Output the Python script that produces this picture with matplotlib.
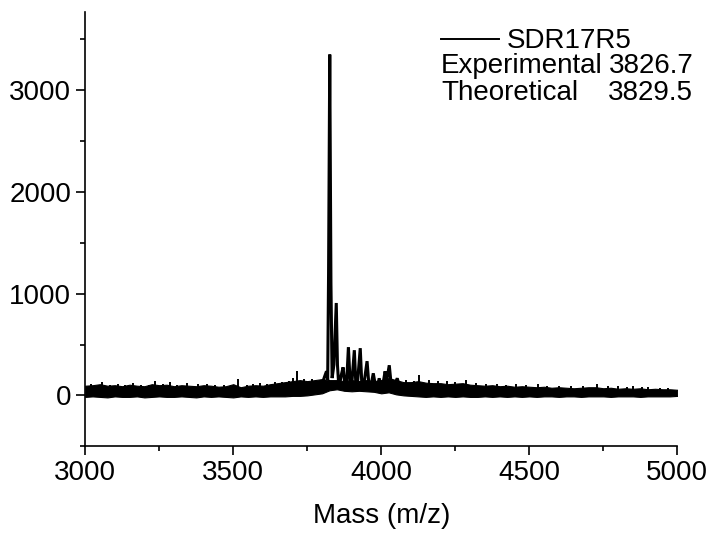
import matplotlib
matplotlib.use("Agg")
import matplotlib.pyplot as plt
from matplotlib.lines import Line2D
from matplotlib.ticker import MultipleLocator

plt.rcParams['font.family'] = ['Liberation Sans', 'DejaVu Sans']

# baseline noise band, every 25 Da
env_mass = [3000, 3025, 3050, 3075, 3100, 3125, 3150, 3175, 3200, 3225,
            3250, 3275, 3300, 3325, 3350, 3375, 3400, 3425, 3450, 3475,
            3500, 3525, 3550, 3575, 3600, 3625, 3650, 3675, 3700, 3725,
            3750, 3775, 3800, 3825, 3850, 3875, 3900, 3925, 3950, 3975,
            4000, 4025, 4050, 4075, 4100, 4125, 4150, 4175, 4200, 4225,
            4250, 4275, 4300, 4325, 4350, 4375, 4400, 4425, 4450, 4475,
            4500, 4525, 4550, 4575, 4600, 4625, 4650, 4675, 4700, 4725,
            4750, 4775, 4800, 4825, 4850, 4875, 4900, 4925, 4950, 4975, 5000]
env_top = [95, 100, 110, 95, 100, 90, 105, 95, 90, 110,
           100, 105, 90, 100, 95, 90, 100, 95, 85, 90,
           110, 80, 95, 100, 95, 110, 120, 130, 140, 150,
           140, 150, 160, 150, 150, 140, 150, 140, 150, 140,
           150, 170, 150, 130, 130, 140, 125, 120, 120, 110,
           115, 120, 105, 100, 95, 100, 90, 95, 85, 90,
           85, 80, 85, 75, 80, 75, 70, 75, 80, 80,
           70, 75, 65, 70, 65, 70, 60, 65, 60, 60, 55]
env_bot = [-15, -10, -15, -20, -10, -15, -15, -10, -20, -15,
           -10, -15, -15, -10, -15, -20, -10, -15, -10, -15,
           -20, -10, -15, -10, -15, -10, -10, -10, -5, -5,
           0, 10, 20, 50, 60, 45, 40, 45, 40, 35,
           20, 30, 10, 0, -5, -10, -15, -10, -15, -10,
           -15, -10, -15, -15, -10, -15, -10, -15, -10, -15,
           -10, -15, -10, -10, -15, -10, -10, -15, -10, -10,
           -10, -15, -10, -10, -10, -15, -10, -10, -10, -10, -5]

# isolated noise spikes
spike_mass = [3020, 3057, 3085, 3110, 3135, 3160, 3190, 3215, 3236, 3262,
              3287, 3310, 3345, 3380, 3410, 3440, 3470, 3517, 3545, 3568,
              3591, 3615, 3640, 3665, 3690, 3703, 3716, 3740, 3765,
              4085, 4110, 4128, 4160, 4190, 4223, 4250, 4287, 4320, 4355,
              4390, 4420, 4455, 4490, 4529, 4560, 4600, 4640, 4680, 4729,
              4765, 4800, 4830, 4850, 4880, 4900, 4940, 4970]
spike_int = [110, 128, 105, 115, 100, 120, 105, 100, 138, 110,
             130, 105, 125, 110, 115, 105, 100, 158, 105, 110,
             120, 110, 135, 130, 145, 168, 237, 160, 165,
             150, 140, 197, 150, 145, 140, 130, 150, 120, 115,
             115, 105, 110, 100, 110, 95, 90, 95, 90, 108,
             90, 95, 85, 90, 80, 80, 75, 70]

# peak cluster around the molecular ion
peak_mass = [3790, 3800, 3808, 3815, 3819, 3822, 3826, 3830, 3834, 3840,
             3848, 3852, 3857, 3865, 3871, 3877, 3882, 3889, 3895, 3899,
             3909, 3914, 3918, 3929, 3934, 3939, 3952, 3958, 3963, 3973,
             3980, 3986, 3993, 4000, 4008, 4013, 4018, 4027, 4033, 4040,
             4054, 4062, 4070]
peak_int = [60, 110, 180, 237, 150, 1200, 3350, 1100, 170, 300,
            908, 300, 70, 200, 276, 110, 60, 474, 120, 60,
            444, 120, 60, 464, 130, 60, 336, 110, 60, 217,
            100, 70, 168, 80, 150, 237, 140, 296, 120, 70,
            168, 80, 60]

fig = plt.figure(figsize=(7.1, 5.37), dpi=100)
ax = fig.add_axes([0.12, 0.169, 0.834, 0.809])

ax.fill_between(env_mass, env_bot, env_top, color='black', lw=0.8)
ax.vlines(spike_mass, 40, spike_int, color='black', lw=1.4)
ax.plot(peak_mass, peak_int, color='black', lw=2.2, solid_joinstyle='miter')

ax.set_xlim(3000, 5000)
ax.set_ylim(-500, 3770)
ax.xaxis.set_major_locator(MultipleLocator(500))
ax.xaxis.set_minor_locator(MultipleLocator(250))
ax.yaxis.set_major_locator(MultipleLocator(1000))
ax.yaxis.set_minor_locator(MultipleLocator(500))

for s in ['top', 'right']:
    ax.spines[s].set_visible(False)
for s in ['left', 'bottom']:
    ax.spines[s].set_linewidth(1.2)
ax.tick_params(which='major', direction='out', length=6.5, width=1.2, labelsize=20)
ax.tick_params(which='minor', direction='out', length=3.5, width=1.2)

ax.set_xlabel('Mass (m/z)', fontsize=20, labelpad=12)

handle = Line2D([], [], color='black', lw=1.4)
ax.legend([handle], ['SDR17R5'], loc='upper left', bbox_to_anchor=(0.601, 0.962),
          frameon=False, fontsize=20, handlelength=2.1, handletextpad=0.25,
          borderaxespad=0, borderpad=0)
ax.text(0.601, 0.876, 'Experimental', transform=ax.transAxes, fontsize=20,
        va='center', ha='left')
ax.text(1.027, 0.876, '3826.7', transform=ax.transAxes, fontsize=20,
        va='center', ha='right')
ax.text(0.601, 0.813, 'Theoretical', transform=ax.transAxes, fontsize=20,
        va='center', ha='left')
ax.text(1.027, 0.813, '3829.5', transform=ax.transAxes, fontsize=20,
        va='center', ha='right')

fig.savefig('out.png', dpi=100)
